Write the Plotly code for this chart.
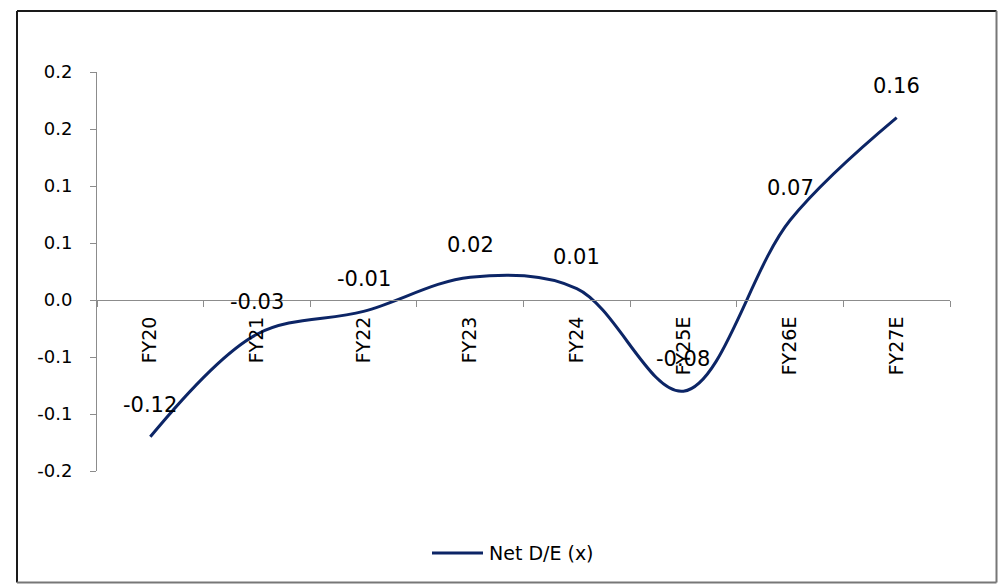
import plotly.graph_objects as go

# Net debt-to-equity by fiscal year (E = estimate)
categories = ["FY20", "FY21", "FY22", "FY23", "FY24", "FY25E", "FY26E", "FY27E"]
net_de = [-0.12, -0.03, -0.01, 0.02, 0.01, -0.08, 0.07, 0.16]
series_name = "Net D/E (x)"

# Y-axis ticks every 0.05, shown rounded to one decimal
y_tickvals = [-0.15, -0.10, -0.05, 0.00, 0.05, 0.10, 0.15, 0.20]
y_ticktext = ["-0.2", "-0.1", "-0.1", "0.0", "0.1", "0.1", "0.2", "0.2"]

W, H = 998, 584
L, R, T, B = 97, 48, 72, 113
y_min, y_max = -0.15, 0.20
plot_w, plot_h = W - L - R, H - T - B

FONT = "DejaVu Sans"
LINE_COLOR = "#0C2566"
AXIS_GREY = "#8C8C8C"


def px_x(px):
    return (px - L) / plot_w


def px_y(py):
    return (H - B - py) / plot_h


fig = go.Figure()
fig.add_trace(
    go.Scatter(
        x=categories,
        y=net_de,
        mode="lines",
        name=series_name,
        showlegend=False,
        line=dict(color=LINE_COLOR, width=3, shape="spline", smoothing=1.0),
    )
)

# Value labels above each point
for cat, v in zip(categories, net_de):
    fig.add_annotation(
        x=cat, y=v, text=f"{v:.2f}", showarrow=False,
        yshift=32, font=dict(family=FONT, size=21, color="#000000"),
    )

# Legend key: line sample plus series name, centred under the plot
leg_y = px_y(553)
fig.add_shape(type="line", xref="paper", yref="paper",
              x0=px_x(432), x1=px_x(483), y0=leg_y, y1=leg_y,
              line=dict(color=LINE_COLOR, width=3))
fig.add_annotation(x=px_x(487), y=leg_y, xref="paper", yref="paper",
                   text=series_name, showarrow=False, xanchor="left", yanchor="middle",
                   font=dict(family=FONT, size=19, color="#000000"))

# Chart-area frame
frame_l, frame_t, frame_r, frame_b = 17, 11, 996.5, 582.5
fig.add_shape(type="line", xref="paper", yref="paper",
              x0=px_x(frame_l), x1=px_x(frame_r), y0=px_y(frame_t), y1=px_y(frame_t),
              line=dict(color="#1A1A1A", width=2))
fig.add_shape(type="line", xref="paper", yref="paper",
              x0=px_x(frame_l), x1=px_x(frame_l), y0=px_y(frame_t), y1=px_y(frame_b),
              line=dict(color="#1A1A1A", width=2))
fig.add_shape(type="line", xref="paper", yref="paper",
              x0=px_x(frame_r), x1=px_x(frame_r), y0=px_y(frame_t), y1=px_y(frame_b),
              line=dict(color="#777777", width=2))
fig.add_shape(type="line", xref="paper", yref="paper",
              x0=px_x(frame_l), x1=px_x(frame_r), y0=px_y(frame_b), y1=px_y(frame_b),
              line=dict(color="#777777", width=2))

zero_pos = (0 - y_min) / (y_max - y_min)

fig.update_layout(
    width=W, height=H,
    margin=dict(l=L, r=R, t=T, b=B),
    paper_bgcolor="white", plot_bgcolor="white",
    font=dict(family=FONT, size=18, color="#000000"),
    showlegend=False,
    xaxis=dict(
        type="category", range=[-0.5, len(categories) - 0.5],
        anchor="free", position=zero_pos,
        showline=True, linecolor=AXIS_GREY, linewidth=1,
        ticks="outside", tickson="boundaries", ticklen=6, tickcolor=AXIS_GREY,
        tickangle=-90, ticklabelstandoff=8,
        tickfont=dict(family=FONT, size=19, color="#000000"),
        showgrid=False, zeroline=False,
    ),
    yaxis=dict(
        range=[y_min, y_max],
        tickvals=y_tickvals, ticktext=y_ticktext,
        showline=True, linecolor=AXIS_GREY, linewidth=1,
        ticks="outside", ticklen=6, tickcolor=AXIS_GREY,
        ticklabelstandoff=14,
        tickfont=dict(family=FONT, size=18, color="#000000"),
        showgrid=False, zeroline=False,
    ),
)

fig.write_html("out.html")
